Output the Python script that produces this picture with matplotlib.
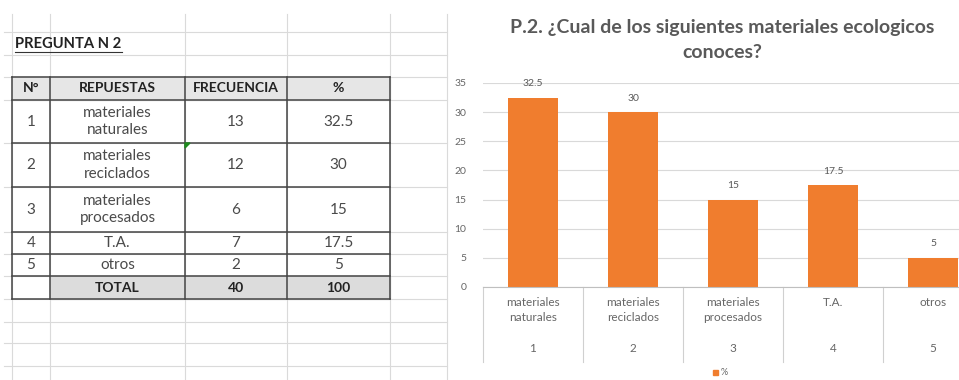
import matplotlib.pyplot as plt
import matplotlib.patches as mpatches

plt.rcParams['font.family'] = ['Lato', 'DejaVu Sans']

# datos de la pregunta 2
numeros = ["1", "2", "3", "4", "5"]
respuestas = ["materiales\nnaturales", "materiales\nreciclados", "materiales\nprocesados", "T.A.", "otros"]
frecuencia = [13, 12, 6, 7, 2]
porcentaje = [32.5, 30, 15, 17.5, 5]
total_frec = 40
total_pct = 100

W, H = 959, 380
fig = plt.figure(figsize=(W / 100, H / 100), dpi=100)
fig.patch.set_facecolor("white")

# fondo tipo hoja de Excel en coordenadas de pixel
bg = fig.add_axes([0, 0, 1, 1])
bg.set_xlim(0, W)
bg.set_ylim(H, 0)
bg.axis("off")

grid_c = "#DADADA"
for x in [12, 50, 185, 287, 390, 447]:
    bg.plot([x, x], [14, H], color=grid_c, lw=0.8, zorder=0)
for y in [32, 55, 77, 100, 143, 187, 232, 254, 276, 299, 322, 343, 366]:
    bg.plot([4, 447], [y, y], color=grid_c, lw=0.8, zorder=0)

bg.text(15, 44, "PREGUNTA N 2", fontsize=10.6, fontweight="bold", color="#222222",
        va="center", ha="left", zorder=3)
bg.plot([15, 122], [52, 52], color="#333333", lw=0.8, zorder=3)

# tabla
col_x = [12, 50, 185, 287, 390]
row_y = [77, 100, 143, 187, 232, 254, 276, 299]
bg.add_patch(mpatches.Rectangle((12, 77), 378, 23, color="#E6E6E6", zorder=1))
bg.add_patch(mpatches.Rectangle((50, 276), 340, 23, color="#DCDCDC", zorder=1))
border = "#444444"
for x in col_x:
    bg.plot([x, x], [77, 299], color=border, lw=1.1, zorder=2)
for y in row_y:
    bg.plot([12, 390], [y, y], color=border, lw=1.1, zorder=2)

headers = ["N°", "REPUESTAS", "FRECUENCIA", "%"]
cx = [(col_x[i] + col_x[i + 1]) / 2 for i in range(4)]
for i, h in enumerate(headers):
    bg.text(cx[i], 88.5, h, fontsize=10, fontweight="bold", color="#222222",
            ha="center", va="center", zorder=3)

for r in range(len(numeros)):
    yc = (row_y[r + 1] + row_y[r + 2]) / 2
    vals = [numeros[r], respuestas[r], str(frecuencia[r]), f"{porcentaje[r]:g}"]
    for i, v in enumerate(vals):
        bg.text(cx[i], yc, v, fontsize=11, color="#4A4A4A", ha="center",
                va="center", linespacing=1.35, zorder=3)

yc = (row_y[6] + row_y[7]) / 2
for i, v in enumerate(["TOTAL", str(total_frec), str(total_pct)]):
    bg.text(cx[i + 1], yc, v, fontsize=10, fontweight="bold", color="#222222",
            ha="center", va="center", zorder=3)

# marca verde de Excel
bg.add_patch(mpatches.Polygon([[185, 143], [190, 143], [185, 148]], color="#1E8A1E", zorder=4))

# grafico de barras
x0, x1 = 483, 983
y_top, y_base = 83, 287
ax = fig.add_axes([x0 / W, (H - y_base) / H, (x1 - x0) / W, (y_base - y_top) / H])
ax.patch.set_alpha(0)
pos = list(range(len(porcentaje)))
bars = ax.bar(pos, porcentaje, width=0.5, color="#F07D2E", zorder=2)
ax.set_xlim(-0.5, 4.5)
ax.set_ylim(0, 35)
ax.set_yticks(range(0, 36, 5))
ax.tick_params(axis="y", length=0, labelsize=7.5, labelcolor="#666666", pad=12)
ax.set_xticks([])
ax.grid(axis="y", color="#D9D9D9", lw=0.8, zorder=0)
for s in ["top", "right", "left"]:
    ax.spines[s].set_visible(False)
ax.spines["bottom"].set_color("#BFBFBF")

for b, v in zip(bars, porcentaje):
    ax.text(b.get_x() + b.get_width() / 2, v + 2.4, f"{v:g}", fontsize=7.5,
            color="#595959", ha="center", va="center")

tr = ax.get_xaxis_transform()
ppx = 1 / (y_base - y_top)
for i in range(len(respuestas) + 1):
    ax.plot([i - 0.5, i - 0.5], [0, -(362 - y_base) * ppx], transform=tr,
            color="#D0D0D0", lw=0.8, clip_on=False)
for i, lab in enumerate(respuestas):
    ax.text(i, -(297 - y_base) * ppx, lab, transform=tr, fontsize=8.5,
            color="#666666", ha="center", va="top", linespacing=1.45)
    ax.text(i, -(348 - y_base) * ppx, numeros[i], transform=tr, fontsize=8.5,
            color="#666666", ha="center", va="center")

# leyenda
bg.add_patch(mpatches.Rectangle((713, 370), 5, 5, color="#F07D2E", zorder=3))
bg.text(721, 372.5, "%", fontsize=6.5, color="#666666", va="center", ha="left")

bg.text(722, 40, "P.2. ¿Cual de los siguientes materiales ecologicos\nconoces?",
        fontsize=14, fontweight="bold", color="#595959", ha="center", va="center",
        linespacing=1.6)

fig.savefig("out.png", dpi=100)
